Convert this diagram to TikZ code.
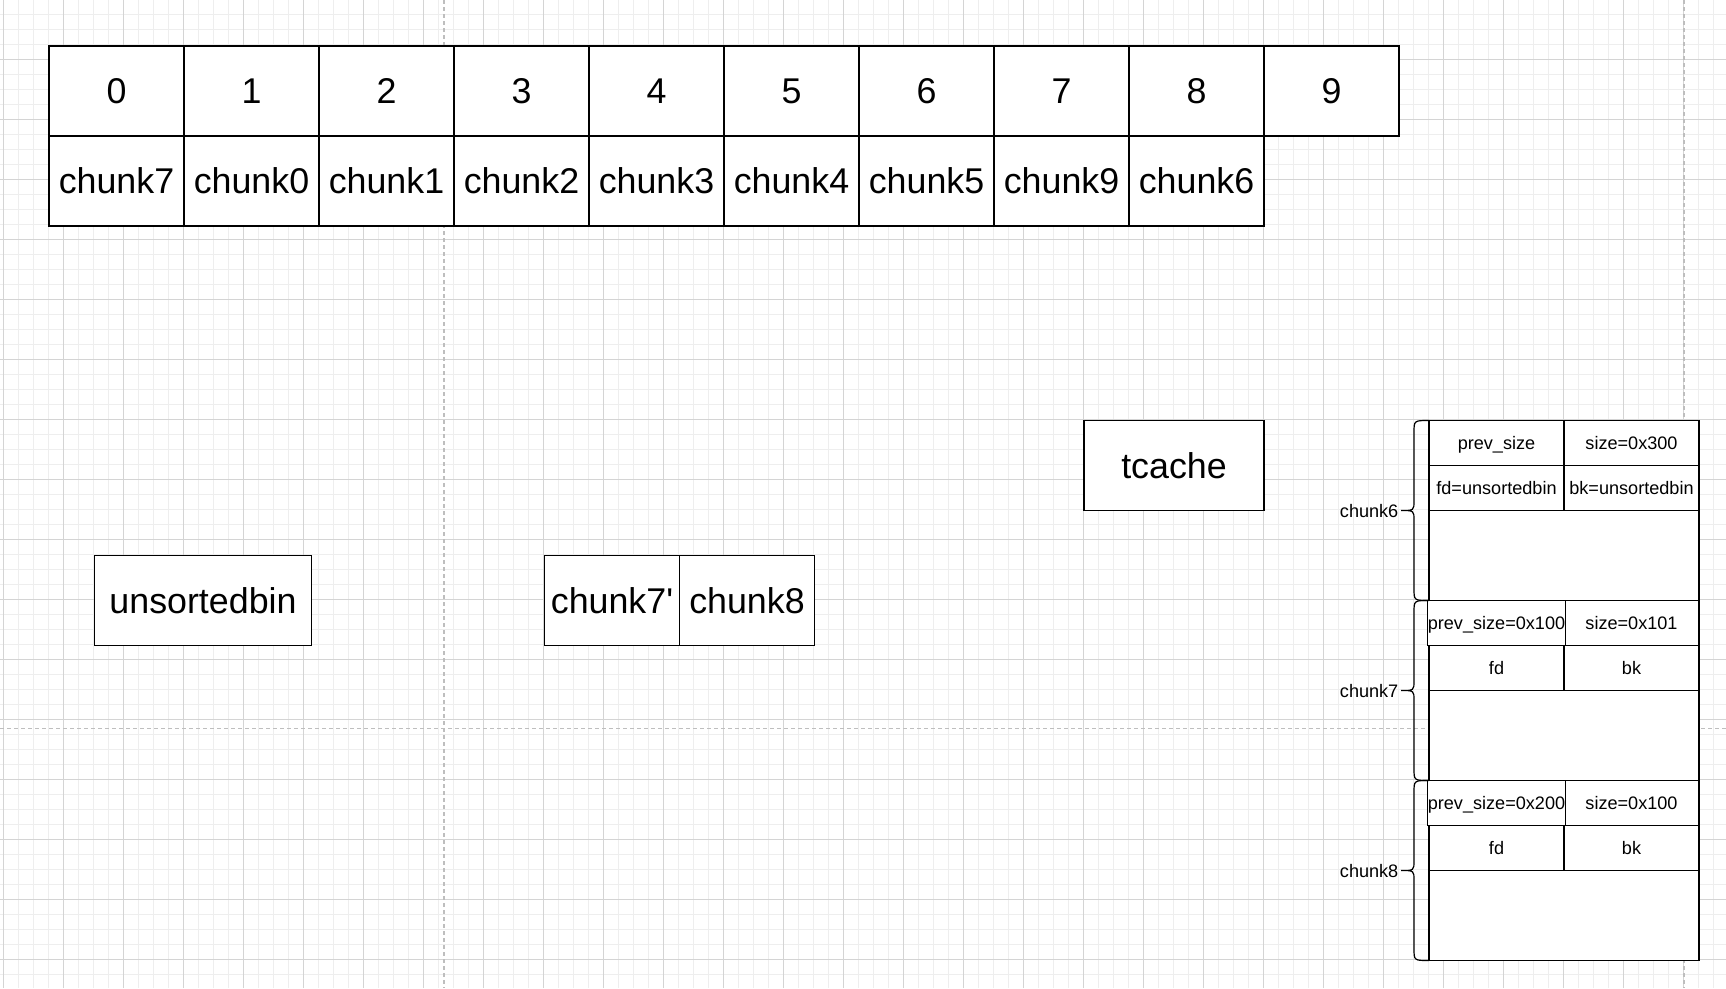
\documentclass[tikz,border=0pt]{standalone}
\usepackage{fontspec}
\setmainfont{Liberation Sans}
\definecolor{gridminor}{RGB}{238,238,238}
\definecolor{gridmajor}{RGB}{212,212,212}
\definecolor{pagebrk}{RGB}{190,190,190}
\begin{document}
\begin{tikzpicture}[x=1pt,y=-1pt,
  box/.style={draw=black, fill=white, line width=1.2pt, inner sep=0pt, align=center},
  big/.style={box, font=\fontsize{35.8}{42}\selectfont, text height=25.6pt, text depth=0pt},
  small/.style={box, font=\fontsize{18.1}{22}\selectfont, text height=13pt, text depth=0pt},
  lbl/.style={inner sep=0pt, font=\fontsize{18.1}{22}\selectfont, text height=13pt, text depth=0pt, anchor=east},
  bracepath/.style={draw=black, line width=1.2pt},
  gridmin/.style={draw=gridminor, line width=1pt},
  gridmaj/.style={draw=gridmajor, line width=1pt},
  pagebreak/.style={draw=pagebrk, line width=1.3pt, dash pattern=on 4pt off 3pt}]
\useasboundingbox (0,0) rectangle (1726,988);
\fill[white] (0,0) rectangle (1726,988);
% grid
\foreach \i in {0,...,115} { \draw[gridmin] (3.5+15*\i,0) -- (3.5+15*\i,988); }
\foreach \j in {1,...,66} { \draw[gridmin] (0,-0.5+15*\j) -- (1726,-0.5+15*\j); }
\foreach \i in {0,...,28} { \draw[gridmaj] (3.5+60*\i,0) -- (3.5+60*\i,988); }
\foreach \j in {1,...,16} { \draw[gridmaj] (0,-0.5+60*\j) -- (1726,-0.5+60*\j); }
% page breaks
\draw[pagebreak] (444,0) -- (444,988);
\draw[pagebreak] (1684,0) -- (1684,988);
\draw[pagebreak] (0,728.3) -- (1726,728.3);
% top table
\foreach \i in {0,...,9} {
  \node[big, minimum width=135pt, minimum height=90pt] (h\i) at (116.5+135*\i,91) {\i};
}
\foreach \t [count=\i from 0] in {chunk7,chunk0,chunk1,chunk2,chunk3,chunk4,chunk5,chunk9,chunk6} {
  \node[big, minimum width=135pt, minimum height=90pt] (c\i) at (116.5+135*\i,181) {\t};
}
% tcache, unsortedbin, chunk7' chunk8
\node[big, minimum width=180pt, minimum height=90pt] (tcache) at (1174,465.5) {tcache};
\node[big, minimum width=217pt, minimum height=90pt] (unsorted) at (203,600.7) {unsortedbin};
\node[big, minimum width=135pt, minimum height=90pt] (u7) at (612,600.7) {chunk7\textquotesingle};
\node[big, minimum width=135pt, minimum height=90pt] (u8) at (747,600.7) {chunk8};
% memory chunks
\foreach \k/\n/\a/\b/\c/\d in {0/6/prev\_size/size=0x300/fd=unsortedbin/bk=unsortedbin,
                                1/7/prev\_size=0x100/size=0x101/fd/bk,
                                2/8/prev\_size=0x200/size=0x100/fd/bk} {
  \pgfmathsetmacro\yy{420.5+180*\k}
  \node[small, minimum width=135pt, minimum height=45pt] (b\n) at (1631.5,\yy+22.5) {\b};
  \node[small, minimum width=135pt, minimum height=45pt] (a\n) at (1496.5,\yy+22.5) {\a};
  \node[small, minimum width=135pt, minimum height=45pt] (f\n) at (1496.5,\yy+67.5) {\c};
  \node[small, minimum width=135pt, minimum height=45pt] (k\n) at (1631.5,\yy+67.5) {\d};
  \node[box, minimum width=270pt, minimum height=90pt] (e\n) at (1564,\yy+135) {};
  \draw[bracepath] (1429,\yy) .. controls (1414,\yy) .. (1414,\yy+12) -- (1414,\yy+80)
     .. controls (1414,\yy+90) .. (1401,\yy+90)
     .. controls (1414,\yy+90) .. (1414,\yy+100) -- (1414,\yy+168)
     .. controls (1414,\yy+180) .. (1429,\yy+180);
  \node[lbl] (l\n) at (1398.5,\yy+90) {chunk\n};
}
\end{tikzpicture}
\end{document}
